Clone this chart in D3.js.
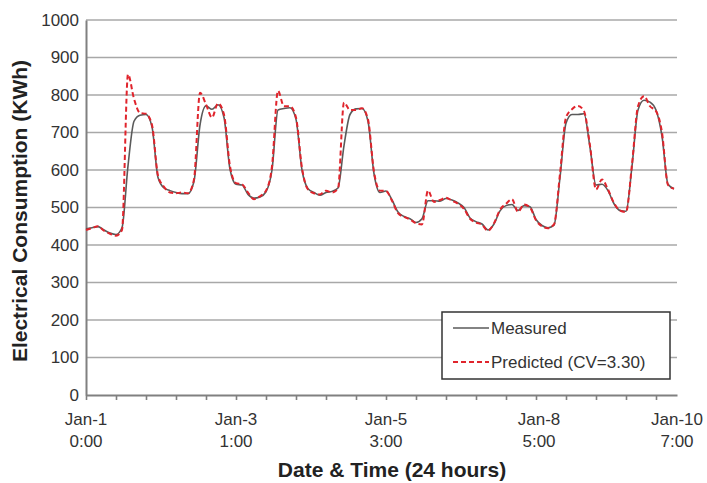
<!DOCTYPE html>
<html>
<head>
<meta charset="utf-8">
<script src="https://cdn.jsdelivr.net/npm/d3@7"></script>
<style>
  html, body { margin: 0; padding: 0; background: #ffffff; }
  svg { display: block; font-family: "Liberation Sans", Arial, sans-serif; }
</style>
</head>
<body>
<svg id="chart" width="707" height="483"></svg>
<script>
// ---- data (readings every 2 hourly steps, index = i * 2) ----
const stepHours = 2;
const measured = [
  443, 446, 449, 440, 432, 428, 446, 611, 730, 746,
  748, 715, 580, 552, 545, 540, 537, 537, 570, 720,
  771, 762, 774, 740, 602, 562, 560, 535, 525, 528,
  542, 600, 760, 764, 766, 735, 600, 550, 540, 533,
  540, 543, 552, 665, 748, 763, 764, 730, 590, 540,
  544, 520, 488, 476, 470, 460, 470, 518, 518, 517,
  524, 520, 512, 500, 472, 462, 456, 440, 456, 491,
  505, 508, 492, 505, 502, 468, 452, 446, 453, 580,
  725, 748, 748, 750, 660, 560, 562, 545, 510, 492,
  490, 610, 760, 786, 781, 760, 690, 562, 550
];
const predicted = [
  440, 445, 450, 438, 430, 425, 440, 855, 790, 752,
  750, 720, 585, 555, 540, 538, 540, 538, 575, 806,
  775, 740, 778, 748, 610, 565, 562, 540, 522, 530,
  545, 610, 811, 770, 770, 740, 605, 548, 538, 535,
  545, 540, 550, 780, 760, 760, 765, 735, 595, 545,
  544, 518, 485, 475, 468, 458, 455, 545, 515, 520,
  526, 518, 510, 496, 470, 460, 454, 438, 458, 494,
  510, 522, 488, 508, 500, 466, 450, 445, 455, 590,
  740, 762, 771, 757, 665, 548, 575, 548, 512, 492,
  488, 615, 770, 797, 770, 757, 700, 560, 550
];
const yTicks = [0, 100, 200, 300, 400, 500, 600, 700, 800, 900, 1000];
const xTickIdx = d3.range(0, 200, 10);
const xLabelIdx = [0, 50, 100, 151, 197];
const xLabelDate = ["Jan-1", "Jan-3", "Jan-5", "Jan-8", "Jan-10"];
const xLabelTime = ["0:00", "1:00", "3:00", "5:00", "7:00"];
const seriesNames = ["Measured", "Predicted (CV=3.30)"];
const xTitle = "Date & Time (24 hours)";
const yTitle = "Electrical Consumption (KWh)";

// ---- layout ----
const W = 707, H = 483;
const m = { left: 86, right: 30, top: 20, bottom: 88 };
const svg = d3.select("#chart");

const x = d3.scaleLinear().domain([0, 197]).range([m.left, W - m.right]);
const y = d3.scaleLinear().domain([0, 1000]).range([H - m.bottom, m.top]);

// gridlines
svg.append("g")
  .selectAll("line").data(yTicks.filter(d => d > 0)).join("line")
  .attr("x1", m.left).attr("x2", W - m.right)
  .attr("y1", d => y(d)).attr("y2", d => y(d))
  .attr("stroke", "#a8a8a8").attr("stroke-width", 1.6);

// y axis
const yAxis = svg.append("g").attr("transform", `translate(${m.left},0)`)
  .call(d3.axisLeft(y).tickValues(yTicks).tickFormat(d3.format("d")).tickSize(0).tickPadding(7));
yAxis.select(".domain").attr("stroke", "#808080").attr("stroke-width", 2);
yAxis.selectAll("text").attr("font-size", 17).attr("fill", "#333")
  .attr("font-family", "'Liberation Sans', Arial, sans-serif");

// x axis
const xAxis = svg.append("g").attr("transform", `translate(0,${y(0)})`)
  .call(d3.axisBottom(x).tickValues(xTickIdx).tickSize(5).tickSizeOuter(0).tickFormat(""));
xAxis.select(".domain").attr("stroke", "#808080").attr("stroke-width", 2);
xAxis.selectAll(".tick line").attr("stroke", "#808080").attr("stroke-width", 1.6);

// x labels (two lines)
const xl = svg.append("g");
xLabelIdx.forEach((v, i) => {
  const t = xl.append("text")
    .attr("text-anchor", "middle")
    .attr("font-size", 17).attr("fill", "#333");
  t.append("tspan").attr("x", x(v)).attr("y", y(0) + 30).text(xLabelDate[i]);
  t.append("tspan").attr("x", x(v)).attr("y", y(0) + 52).text(xLabelTime[i]);
});

// lines
const line = d3.line()
  .x((d, i) => x(i * stepHours))
  .y(d => y(d))
  .curve(d3.curveMonotoneX);

svg.append("path").datum(measured)
  .attr("fill", "none").attr("stroke", "#5a5a5a").attr("stroke-width", 1.6)
  .attr("d", line);
svg.append("path").datum(predicted)
  .attr("fill", "none").attr("stroke", "#e0242c").attr("stroke-width", 2)
  .attr("stroke-dasharray", "5,3")
  .attr("d", line);

// legend
const lg = svg.append("g").attr("transform", "translate(442,312)");
lg.append("rect").attr("width", 228).attr("height", 67)
  .attr("fill", "#fff").attr("stroke", "#333").attr("stroke-width", 1.5);
lg.append("line").attr("x1", 11).attr("x2", 47).attr("y1", 16).attr("y2", 16)
  .attr("stroke", "#5a5a5a").attr("stroke-width", 1.6);
lg.append("line").attr("x1", 11).attr("x2", 47).attr("y1", 50).attr("y2", 50)
  .attr("stroke", "#e0242c").attr("stroke-width", 2).attr("stroke-dasharray", "5,3");
lg.selectAll("text.leg").data(seriesNames).join("text")
  .attr("class", "leg")
  .attr("x", 49).attr("y", (d, i) => 22 + i * 34)
  .attr("font-size", 17).attr("fill", "#333")
  .text(d => d);

// axis titles
svg.append("text")
  .attr("x", 392).attr("y", 477)
  .attr("text-anchor", "middle")
  .attr("font-size", 21).attr("font-weight", "bold").attr("fill", "#222")
  .text(xTitle);
svg.append("text")
  .attr("transform", "translate(27,211) rotate(-90)")
  .attr("text-anchor", "middle")
  .attr("font-size", 21).attr("font-weight", "bold").attr("fill", "#222")
  .text(yTitle);
</script>
</body>
</html>
